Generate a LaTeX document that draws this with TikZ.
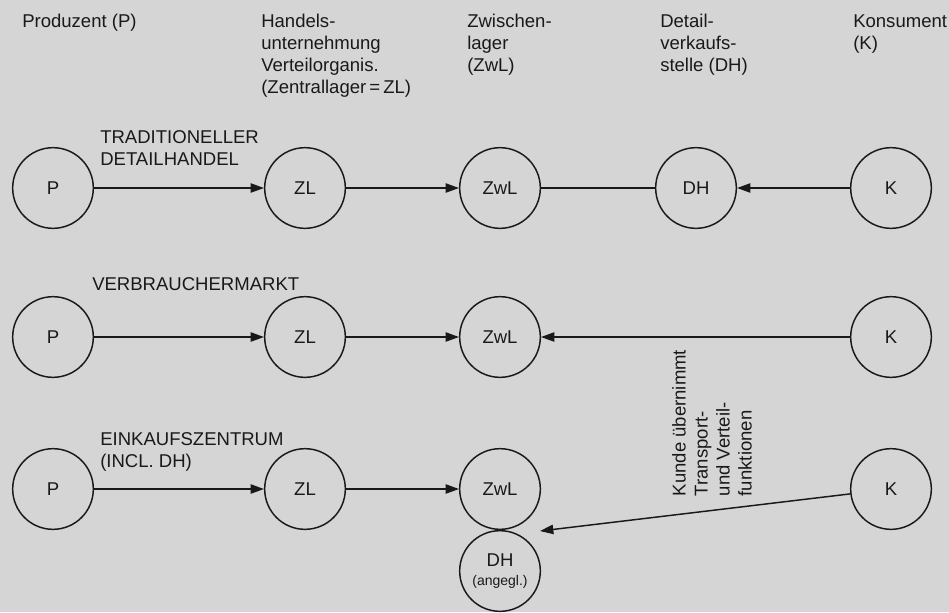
\documentclass[tikz,border=0pt]{standalone}
\usepackage{fontspec}
\setmainfont{Liberation Sans}
\usetikzlibrary{arrows.meta,positioning}
\definecolor{papier}{RGB}{213,213,213}
\definecolor{tinte}{RGB}{25,25,25}

\begin{document}
\begin{tikzpicture}[x=0.75pt,y=0.75pt,yscale=-1,xscale=1,
    stelle/.style={draw=tinte,circle,line width=1.1pt,minimum size=60.5pt,inner sep=0pt,text=tinte,
      align=center,font=\fontsize{13.9}{16}\selectfont},
    fluss/.style={draw=tinte,line width=1.1pt,-{Triangle[length=10pt,width=7pt]}},
    linie/.style={draw=tinte,line width=1.1pt},
    txt/.style={anchor=base west,inner sep=0pt,align=left,text=tinte,
      font=\fontsize{13.9}{16.5}\selectfont}]
%set diagram frame 949 x 612
\useasboundingbox (0,0) rectangle (949,612);
\fill [papier] (0,0) rectangle (949,612);

% Column heads (base = baseline of last line)
\node [txt] (hP) at (22,27) {Produzent (P)};
\node [txt] (hZL) at (261,93) {Handels-\\unternehmung\\Verteilorganis.\\(Zentrallager\,=\,ZL)};
\node [txt] (hZwL) at (467,71) {Zwischen-\\lager\\(ZwL)};
\node [txt] (hDH) at (660,71) {Detail-\\verkaufs-\\stelle (DH)};
\node [txt] (hK) at (853,49) {Konsument\\(K)};

% Row labels
\node [txt] (lTrad) at (100,165) {TRADITIONELLER\\DETAILHANDEL};
\node [txt] (lVbm) at (92,290) {VERBRAUCHERMARKT};
\node [txt] (lEkz) at (100,467) {EINKAUFSZENTRUM\\(INCL. DH)};

% Row 1: traditioneller Detailhandel
\node [stelle] (p1) at (53,188) {P};
\node [stelle] (zl1) at (305,188) {ZL};
\node [stelle] (zwl1) at (500,188) {ZwL};
\node [stelle] (dh1) at (696,188) {DH};
\node [stelle] (k1) at (891,188) {K};
\draw [fluss] (p1) -- (zl1);
\draw [fluss] (zl1) -- (zwl1);
\draw [linie] (zwl1) -- (dh1);
\draw [fluss] (k1) -- (dh1);

% Row 2: Verbrauchermarkt
\node [stelle] (p2) at (53,337) {P};
\node [stelle] (zl2) at (305,337) {ZL};
\node [stelle] (zwl2) at (500,337) {ZwL};
\node [stelle] (k2) at (891,337) {K};
\draw [fluss] (p2) -- (zl2);
\draw [fluss] (zl2) -- (zwl2);
\draw [fluss] (k2) -- (zwl2);

% Row 3: Einkaufszentrum
\node [stelle] (p3) at (53,489) {P};
\node [stelle] (zl3) at (305,489) {ZL};
\node [stelle] (zwl3) at (500,489) {ZwL};
\node [stelle] (dh3) at (500,571) {DH\\[-2pt]{\fontsize{10.5}{12}\selectfont (angegl.)}};
\node [stelle] (k3) at (891,489) {K};
\coordinate (ende3) at (540,531);
\draw [fluss] (p3) -- (zl3);
\draw [fluss] (zl3) -- (zwl3);
\draw [fluss] (k3) -- (ende3);

% Note
\node [txt,anchor=center,rotate=90] (kunde) at (712,423) {Kunde übernimmt\\Transport-\\und Verteil-\\funktionen};

\end{tikzpicture}
\end{document}
